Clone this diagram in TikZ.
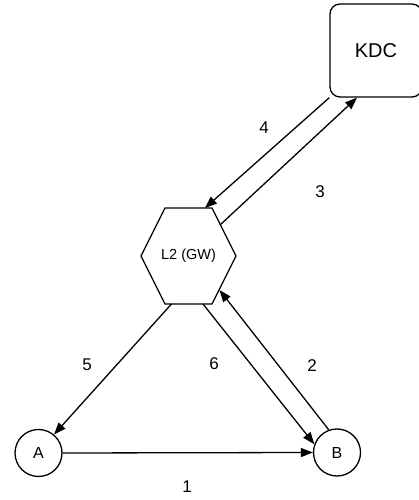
\documentclass[tikz,border=0pt]{standalone}
\usepackage{fontspec}
\setmainfont{Liberation Sans}
\usetikzlibrary{arrows.meta,calc}

\begin{document}
\begin{tikzpicture}[x=1pt, y=1pt,
            server/.style={rectangle, draw, line width=1.3pt, rounded corners=10pt, minimum width=92pt, minimum height=93pt, font=\fontsize{20}{22}\selectfont},
            gateway/.style={rectangle, minimum width=95pt, minimum height=96pt, inner sep=0pt, font=\fontsize{14.5}{16}\selectfont},
            host/.style={circle, draw, line width=1.3pt, minimum size=47pt, inner sep=0pt, font=\fontsize{16}{18}\selectfont},
            arrow/.style={-{Triangle[length=12pt, width=9pt]}, line width=1.3pt},
            step label/.style={font=\fontsize{17}{19}\selectfont}
            ]
            \useasboundingbox (0,0) rectangle (418,500);

            % Key distribution centre and gateway
            \node[server] (kdc) at (376,449.5) {KDC};
            \node[gateway] (gw) at (188.5,244) {L2 (GW)};
            \draw[line width=1.3pt] ($(gw.center)+(-47.5,0)$) -- ++(24,48) -- ++(47,0) -- ++(24,-48) -- ++(-24,-48) -- ++(-47,0) -- cycle;

            % Hosts
            \node[host] (a) at (38.5,47) {A};
            \node[host] (b) at (337,47.5) {B};

            % Arrows between hosts and gateway
            \draw[arrow] (a.east) -- (b.west);
            \draw[arrow] (b.110) -- ($(gw.center)+(31,-34)$);
            \draw[arrow] ($(gw.center)+(31.5,31)$) -- ([xshift=-19pt]kdc.south);
            \draw[arrow] (kdc.south west) -- ($(gw.center)+(16.5,48)$);
            \draw[arrow] ($(gw.center)+(-17,-48)$) -- (a.50);
            \draw[arrow] ($(gw.center)+(14.5,-48)$) -- (b.160);

            % Step numbers
            \node[step label] (n1) at (187,13) {1};
            \node[step label] (n2) at (312,134) {2};
            \node[step label] (n3) at (320,308) {3};
            \node[step label] (n4) at (264,372) {4};
            \node[step label] (n5) at (87,135) {5};
            \node[step label] (n6) at (214,136) {6};

        \end{tikzpicture}
\end{document}
